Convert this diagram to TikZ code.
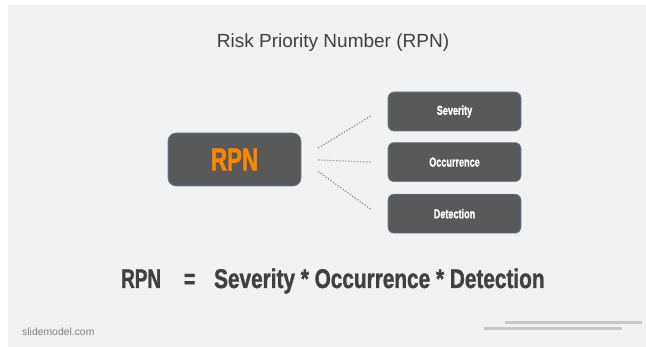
\documentclass[tikz,border=0pt]{standalone}
\usepackage{fontspec}
\setmainfont{Liberation Sans}
\newfontfamily\condfont[FakeStretch=0.70, BoldFeatures={FakeBold=1.2}]{Liberation Sans}
\newfontfamily\condwide[FakeStretch=0.77, BoldFeatures={FakeBold=1.2}]{Liberation Sans}
\usetikzlibrary{positioning}
\definecolor{panelgray}{HTML}{F2F2F2}
\definecolor{boxgray}{HTML}{595959}
\definecolor{boxline}{HTML}{6F7E99}
\definecolor{textgray}{HTML}{404040}
\definecolor{dotgray}{HTML}{8C8C8C}
\definecolor{rpnorange}{HTML}{FF8600}
\definecolor{footgray}{HTML}{7F7F7F}
\definecolor{rulegray}{HTML}{C8C8C8}
\begin{document}
\begin{tikzpicture}[
			x=1pt, y=-1pt,
			box/.style = {draw=boxline, line width=0.6pt, fill=boxgray, rounded corners=6pt,
				minimum width=133pt, minimum height=39pt, inner sep=0pt, text=white,
				font=\condfont\bfseries\fontsize{13}{15}\selectfont},
			bigbox/.style = {box, minimum height=53pt, rounded corners=8pt, text=rpnorange,
				font=\condfont\bfseries\fontsize{32}{36}\selectfont},
			dotline/.style = {draw=dotgray, line width=1.2pt, dash pattern=on 1.2pt off 1.8pt},
			]
			\useasboundingbox (0,0) rectangle (646,347);
			\fill[white] (0,0) rectangle (646,347);
			\fill[panelgray] (7.5,5) rectangle (646,347);
			% title
			\node[anchor=base, text=textgray, font=\fontsize{19}{23}\selectfont] (title) at (333,48)
				{Risk Priority Number (RPN)};
			% boxes
			\node[bigbox] (rpn) at (234.5,159.5) {RPN};
			\node[box] (sev) at (454.5,111.5) {Severity};
			\node[box, below=11pt of sev] (occ) {Occurrence};
			\node[box, below=12pt of occ] (det) {Detection};
			% dotted links
			\draw[dotline] ([shift={(17,-11.5)}]rpn.east) -- ([shift={(-17,4.5)}]sev.west);
			\draw[dotline] ([shift={(17,0.5)}]rpn.east) -- ([shift={(-17,0)}]occ.west);
			\draw[dotline] ([shift={(17,12)}]rpn.east) -- ([shift={(-17,-4.5)}]det.west);
			% formula
			\node[anchor=base west, inner sep=0pt, text=textgray,
				font=\condfont\bfseries\fontsize{27}{31}\selectfont] (formula) at (121,288)
				{RPN\hspace{23pt}=\hspace{19pt}{\condwide\bfseries Severity * Occurrence * Detection}};
			% footer
			\node[anchor=base west, inner sep=0pt, text=footgray, font=\fontsize{10.4}{12}\selectfont]
				(site) at (22,336) {slidemodel.com};
			\draw[rulegray, line width=3pt] (505,322.5) -- (642,322.5);
			\draw[rulegray, line width=3pt] (484,329) -- (622,329);
		\end{tikzpicture}
\end{document}
